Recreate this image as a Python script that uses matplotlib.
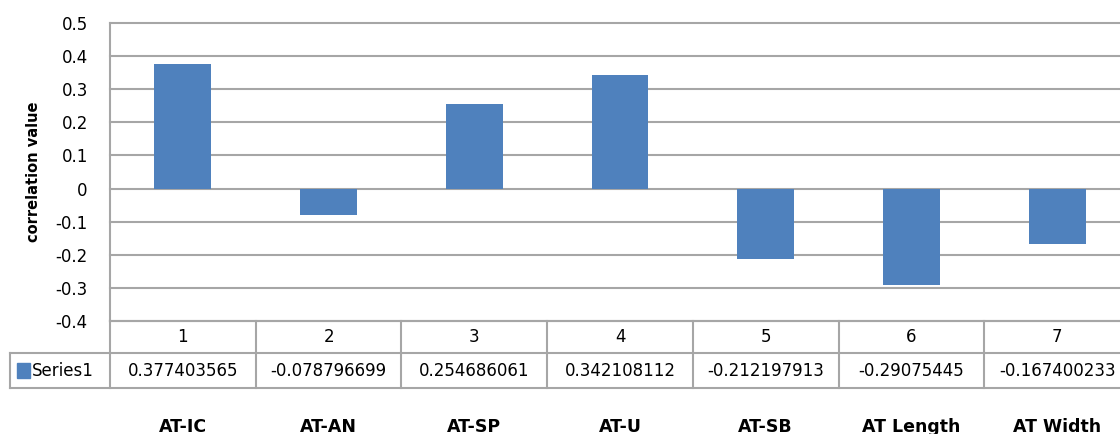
import numpy as np
import matplotlib.pyplot as plt

categories = ["1", "2", "3", "4", "5", "6", "7"]
names = ["AT-IC", "AT-AN", "AT-SP", "AT-U", "AT-SB", "AT Length", "AT Width"]
values = [0.377403565, -0.078796699, 0.254686061, 0.342108112,
          -0.212197913, -0.29075445, -0.167400233]
value_text = ["0.377403565", "-0.078796699", "0.254686061", "0.342108112",
              "-0.212197913", "-0.29075445", "-0.167400233"]
series_name = "Series1"

W, H = 1120, 434
bar_color = "#4F81BD"
grid_color = "#A6A6A6"
fs = 12

fig = plt.figure(figsize=(W / 100, H / 100), dpi=100, facecolor="white")

# main plot area (extends a little past the right edge, like the original crop)
ax = fig.add_axes([110 / W, (H - 321) / H, 1020 / W, (321 - 23) / H])
x = np.arange(len(values))
ax.bar(x, values, width=0.39, color=bar_color, zorder=3)
ax.set_xlim(-0.5, len(values) - 0.5)
ax.set_ylim(-0.4, 0.5)
yt = np.round(np.arange(-0.4, 0.51, 0.1), 1)
ax.set_yticks(yt)
ax.set_yticklabels([f"{v:g}" if v != 0 else "0" for v in yt], fontsize=fs)
ax.tick_params(axis="y", length=0, pad=16)
ax.set_xticks([])
ax.yaxis.grid(True, color=grid_color, linewidth=1.5, zorder=0, clip_on=False)
for s in ["top", "right", "bottom"]:
    ax.spines[s].set_visible(False)
ax.spines["left"].set_color(grid_color)
ax.spines["left"].set_linewidth(1.5)
ax.set_ylabel("correlation value", fontsize=10.5, fontweight="bold")
ax.yaxis.set_label_coords(-69 / 1020, 0.5)

# data table below the axis
tx0 = 10
unit = 1020 / len(values)
tax = fig.add_axes([tx0 / W, (H - 388) / H, (1130 - tx0) / W, (388 - 321) / H])
tax.set_xlim(-0.5 - (110 - tx0) / unit, len(values) - 0.5)
tax.set_ylim(0, 67)
tax.axis("off")
lc = dict(color=grid_color, linewidth=1.5, clip_on=False)
left = -0.5 - (110 - tx0) / unit
right = len(values) - 0.5
tax.plot([-0.5, right], [67, 67], **lc)
tax.plot([left, right], [35, 35], **lc)
tax.plot([left, right], [0, 0], **lc)
tax.plot([left, left], [0, 35], **lc)
for k in range(len(values) + 1):
    tax.plot([k - 0.5, k - 0.5], [0, 67], **lc)
for i, (c, t) in enumerate(zip(categories, value_text)):
    tax.text(i, 51, c, ha="center", va="center", fontsize=fs)
    tax.text(i, 17, t, ha="center", va="center", fontsize=fs)
tax.add_patch(plt.Rectangle((left + 7 / unit, 10), 13 / unit, 15,
                            color=bar_color, clip_on=False))
tax.text(left + 22 / unit, 17, series_name, ha="left", va="center", fontsize=fs)

# category names under the table
for i, n in enumerate(names):
    fig.text((110 + unit * (i + 0.5)) / W, (H - 418) / H, n, ha="center",
             va="top", fontsize=12.5, fontweight="bold")

plt.savefig("out.png", dpi=100)
